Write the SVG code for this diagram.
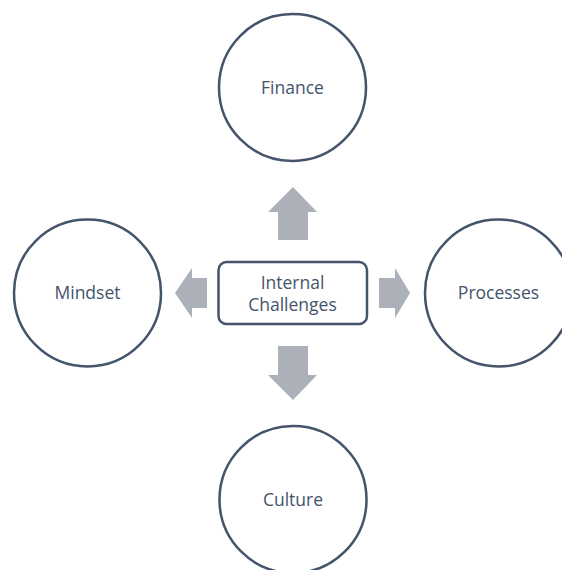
<svg xmlns="http://www.w3.org/2000/svg" width="562" height="570" viewBox="0 0 562 570">
  <style>
    .ring { fill: #ffffff; stroke: #44546a; stroke-width: 2.5; }
    .box { fill: #ffffff; stroke: #44546a; stroke-width: 2.5; }
    .label { font-family: "Open Sans", "Liberation Sans", sans-serif; font-size: 17.5px; fill: #44546a; text-anchor: middle; }
    .arrow { fill: #acb0b8; }
  </style>
  <rect width="562" height="570" fill="#ffffff"/>

  <!-- block arrows pointing out from the centre box -->
  <g id="connectors">
    <polygon class="arrow" points="293,187 317,212 308,212 308,240 278,240 278,212 268,212"/>
    <polygon class="arrow" points="293,400 317,375 308,375 308,346 278,346 278,375 268,375"/>
    <polygon class="arrow" points="410,293 395,268 395,278 379,278 379,308 395,308 395,318"/>
    <polygon class="arrow" points="175,293 192,268 192,278 207,278 207,308 192,308 192,318"/>
  </g>

  <g id="center">
    <rect class="box" x="218.5" y="262" width="148.5" height="62" rx="8"/>
    <text class="label" x="292.5" y="289">Internal</text>
    <text class="label" x="292.5" y="311">Challenges</text>
  </g>

  <g id="finance">
    <circle class="ring" cx="292.5" cy="87.5" r="73.5"/>
    <text class="label" x="292.5" y="93.5">Finance</text>
  </g>

  <g id="culture">
    <circle class="ring" cx="293" cy="499.5" r="73.5"/>
    <text class="label" x="293" y="505.5">Culture</text>
  </g>

  <g id="mindset">
    <circle class="ring" cx="87.5" cy="293" r="73.5"/>
    <text class="label" x="87.5" y="299">Mindset</text>
  </g>

  <g id="processes">
    <circle class="ring" cx="498.5" cy="293" r="73.5"/>
    <text class="label" x="498.5" y="299">Processes</text>
  </g>
</svg>
